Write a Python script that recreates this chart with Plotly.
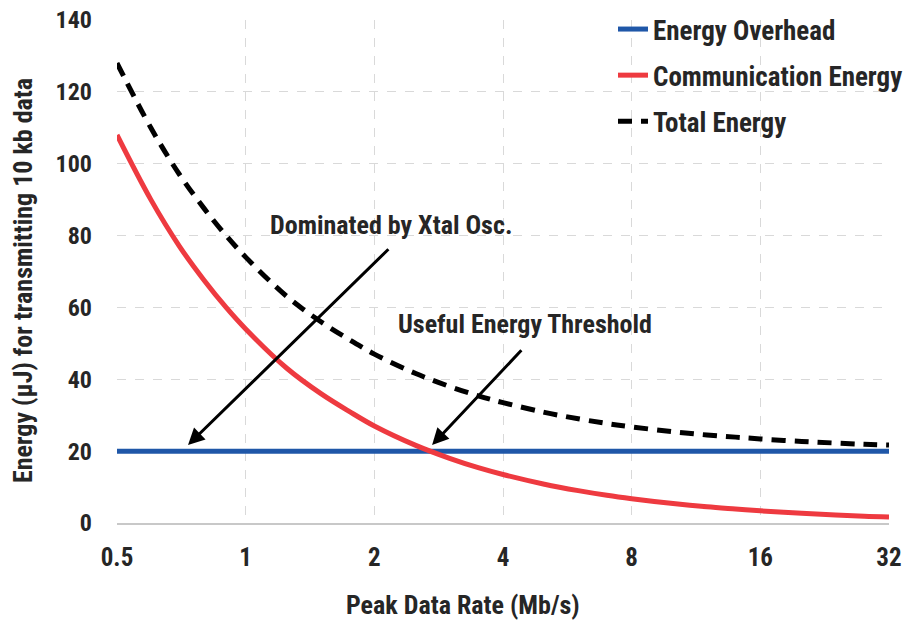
import numpy as np
import plotly.graph_objects as go

# ---- data ----
rate = [0.5, 0.6, 0.7, 0.8, 0.9, 1, 1.25, 1.5, 1.75, 2, 2.5, 3, 3.5, 4,
        5, 6, 7, 8, 10, 12, 14, 16, 20, 24, 28, 32]
overhead = [20] * len(rate)
comm = [108, 90, 77, 67.5, 60, 54, 43, 36, 31, 27, 21.6, 18, 15.4, 13.5,
        10.8, 9, 7.7, 6.75, 5.4, 4.5, 3.9, 3.4, 2.7, 2.25, 1.9, 1.7]
total = [128, 110, 97, 87.5, 80, 74, 63, 56, 51, 47, 41.6, 38, 35.4, 33.5,
         30.8, 29, 27.7, 26.75, 25.4, 24.5, 23.9, 23.4, 22.7, 22.25, 21.9, 21.7]
xticks = [0.5, 1, 2, 4, 8, 16, 32]
xticklabels = ["0.5", "1", "2", "4", "8", "16", "32"]
yticks = [0, 20, 40, 60, 80, 100, 120, 140]

FONT = "Liberation Sans Narrow, Arial Narrow, Roboto Condensed, Liberation Sans, Arial, sans-serif"
TXT = "#262626"

def f(size):
    return dict(family=FONT, size=size, color=TXT, weight="bold")

fig = go.Figure()
fig.add_trace(go.Scatter(x=rate, y=overhead, mode="lines", name="Energy Overhead",
                         line=dict(color="#1f57a8", width=5), legendgroup="a"))
fig.add_trace(go.Scatter(x=rate, y=comm, mode="lines", name="Communication Energy",
                         line=dict(color="#ee3a40", width=5, shape="spline"), legendgroup="b"))
fig.add_trace(go.Scatter(x=rate, y=total, mode="lines", name="Total Energy",
                         line=dict(color="black", width=5, dash="14px,9px", shape="spline"),
                         legendgroup="c"))

grid = dict(showgrid=True, gridcolor="#d9d9d9", gridwidth=1, griddash="dash")

fig.update_xaxes(type="log", range=[np.log10(0.5), np.log10(32)],
                 tickvals=xticks, ticktext=xticklabels, ticks="", automargin=False,
                 showline=True, linecolor="#c8c8c8", linewidth=2, zeroline=False,
                 tickfont=f(25), ticklabelstandoff=11, ticklabeloverflow="allow", **grid)
fig.update_yaxes(range=[0, 140], tickvals=yticks, ticks="", showline=False, automargin=False,
                 zeroline=False, tickfont=f(24), ticklabelstandoff=24,
                 ticklabeloverflow="allow", **grid)

def lx(v):
    return float(np.log10(v))

fig.add_annotation(x=lx(0.733), y=21.7, ax=lx(2.175), ay=76.6, xref="x", yref="y",
                   axref="x", ayref="y", showarrow=True, arrowhead=2, arrowsize=1.1,
                   arrowwidth=3, arrowcolor="black", text="")
fig.add_annotation(x=lx(2.73), y=21.7, ax=lx(4.45), ay=48.5, xref="x", yref="y",
                   axref="x", ayref="y", showarrow=True, arrowhead=2, arrowsize=1.1,
                   arrowwidth=3, arrowcolor="black", text="")

# page body margin is removed (post_script), so figure pixels == screen pixels
L, R, T, B, W, H = 117, 20, 20, 99, 909, 622
pw, ph = W - L - R, H - T - B

def px(xs, ys):
    return (xs - L) / pw, 1 - (ys - T) / ph

for txt, xs, ys, size, ang in [
    ("Dominated by Xtal Osc.", 391, 225, 26, 0),
    ("Useful Energy Threshold", 525, 324, 26, 0),
    ("Peak Data Rate (Mb/s)", 463, 605, 26, 0),
    ("Energy (μJ) for transmitting 10 kb data", 23, 281, 26, -90),
]:
    xa, ya = px(xs, ys)
    fig.add_annotation(x=xa, y=ya, xref="paper", yref="paper", text=txt, textangle=ang,
                       xanchor="center", yanchor="middle",
                       showarrow=False, font=f(size))

lgx, lgy = px(613, 5)
fig.update_layout(
    width=W, height=H, margin=dict(l=L, r=R, t=T, b=B, autoexpand=False),
    paper_bgcolor="white", plot_bgcolor="white",
    showlegend=True,
    legend=dict(x=lgx, y=lgy, xanchor="left", yanchor="top",
                bgcolor="rgba(0,0,0,0)", font=f(27),
                traceorder="grouped", tracegroupgap=8, itemwidth=30),
)

fig.write_html("out.html", config={"displayModeBar": False},
               post_script="document.body.style.margin='0';")
